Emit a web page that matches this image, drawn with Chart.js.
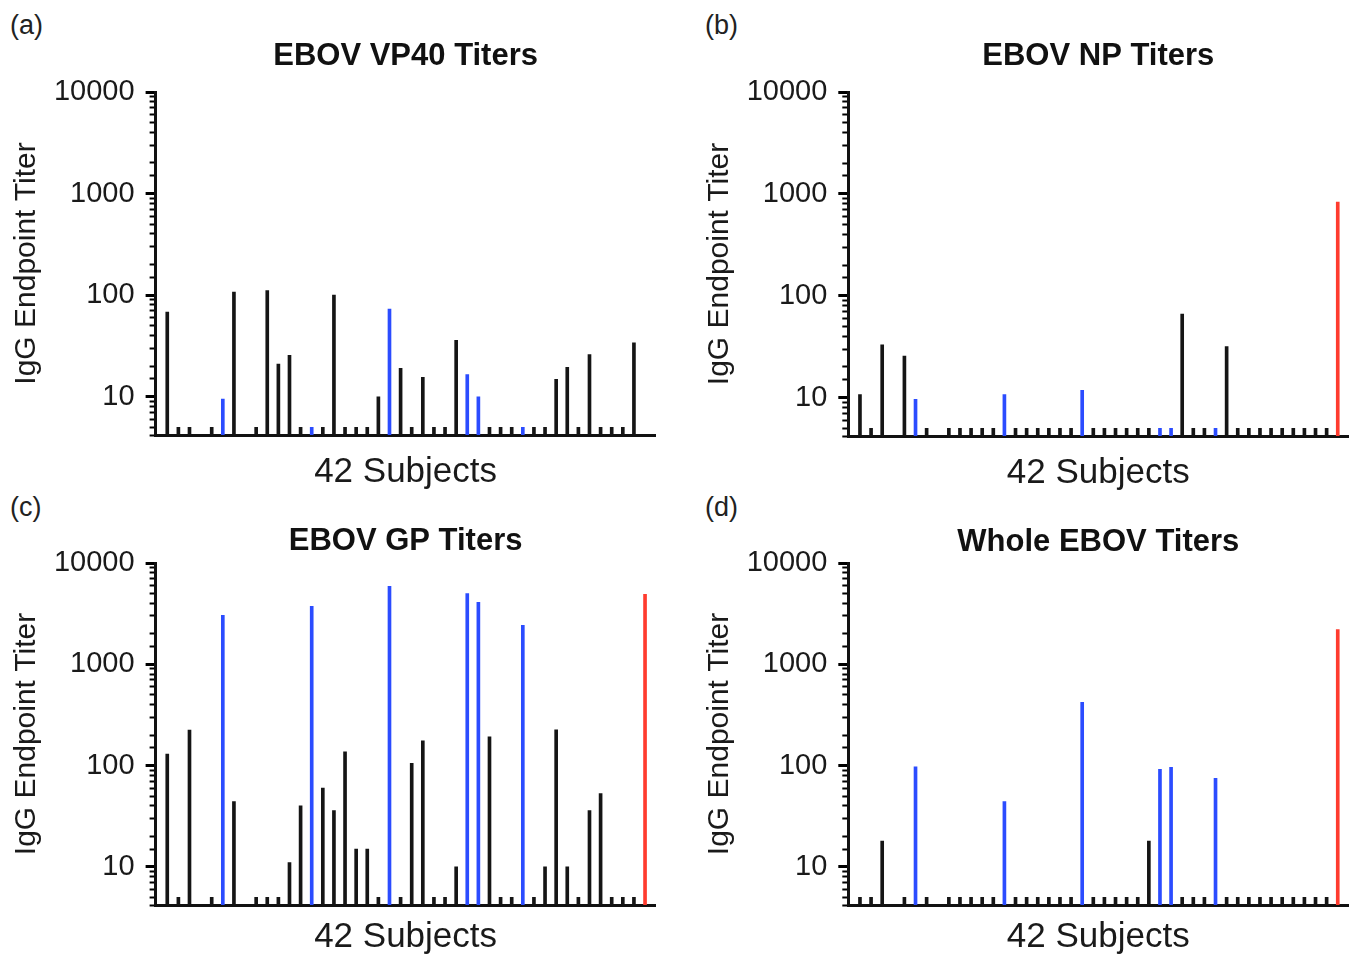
<!DOCTYPE html>
<html>
<head>
<meta charset="utf-8">
<script src="https://cdn.jsdelivr.net/npm/chart.js@4/dist/chart.umd.min.js"></script>
<style>
  body { margin: 0; background: #fff; width: 1354px; height: 958px; position: relative; overflow: hidden;
         font-family: 'Liberation Sans', Arial, sans-serif; }
  canvas { position: absolute; left: 0; top: 0; }
  .tag { position: absolute; font-size: 27px; line-height: 32px; color: #222; }
</style>
</head>
<body>
<div class="tag" style="left:10px;top:9px">(a)</div>
<div class="tag" style="left:705px;top:9px">(b)</div>
<div class="tag" style="left:10px;top:491px">(c)</div>
<div class="tag" style="left:705px;top:491px">(d)</div>
<canvas id="chartA" width="1354" height="958"></canvas>
<canvas id="chartB" width="1354" height="958"></canvas>
<canvas id="chartC" width="1354" height="958"></canvas>
<canvas id="chartD" width="1354" height="958"></canvas>
<script>
var FONT = "'Liberation Sans', Arial, sans-serif";

// subject slots along the x axis (3 and 7 are empty, 43 is the positive control)
var subjects = [0, 1, 2, 3, 4, 5, 6, 7, 8, 9, 10, 11, 12, 13, 14, 15, 16, 17, 18, 19, 20, 21,
                22, 23, 24, 25, 26, 27, 28, 29, 30, 31, 32, 33, 34, 35, 36, 37, 38, 39, 40, 41, 42, 43];
// n = subject, b = highlighted subject, r = control
var groups = ['n','n','n','n','n','b','n','n','n','n','n','n','n','b','n','n','n','n','n','n','b','n',
              'n','n','n','n','n','b','b','n','n','n','b','n','n','n','n','n','n','n','n','n','n','r'];
var groupColor = { n: '#151515', b: '#2b4cff', r: '#ff3b2e' };

var yTicks = [10, 100, 1000, 10000];

var vp40 = [68, 5, 5, null, 5, 9.5, 107, null, 5, 111, 21, 25.6, 5, 5, 5, 100, 5, 5, 5, 10, 73, 19,
            5, 15.5, 5, 5, 36, 16.5, 10, 5, 5, 5, 5, 5, 5, 14.8, 19.5, 5, 26, 5, 5, 5, 34, null];
var np = [10.7, 5, 33, null, 25.5, 9.6, 5, null, 5, 5, 5, 5, 5, 10.7, 5, 5, 5, 5, 5, 5, 11.8, 5,
          5, 5, 5, 5, 5, 5, 5, 66, 5, 5, 5, 31.7, 5, 5, 5, 5, 5, 5, 5, 5, 5, 830];
var gp = [130, 5, 224, null, 5, 3050, 44, null, 5, 5, 5, 11, 40, 3740, 60, 36, 137, 15, 15, 5, 5900, 5,
          105, 175, 5, 5, 10, 5000, 4100, 192, 5, 5, 2430, 5, 10, 225, 10, 5, 36, 53, 5, 5, 5, 4900];
var whole = [5, 5, 18, null, 5, 97, 5, null, 5, 5, 5, 5, 5, 44, 5, 5, 5, 5, 5, 5, 420, 5,
             5, 5, 5, 5, 18, 92, 96, 5, 5, 5, 75, 5, 5, 5, 5, 5, 5, 5, 5, 5, 5, 2200];

Chart.defaults.font.family = FONT;
Chart.defaults.color = '#1a1a1a';

function isDecade(v) {
    return yTicks.indexOf(v) !== -1;
}

function makeChart(id, title, values, p) {
    var points = subjects.map(function (s, i) { return { x: s, y: values[i] }; });
    var colors = subjects.map(function (s, i) { return groupColor[groups[i]]; });
    return new Chart(document.getElementById(id), {
        type: 'bar',
        data: {
            datasets: [{
                data: points,
                backgroundColor: colors,
                borderWidth: 0,
                barThickness: 3
            }]
        },
        options: {
            responsive: false,
            animation: false,
            layout: { padding: { left: p.padLeft, top: 0, right: 1354 - p.right, bottom: p.padBottom } },
            plugins: {
                legend: { display: false },
                tooltip: { enabled: false },
                title: {
                    display: true, text: title, fullSize: false, color: '#111',
                    font: { size: 31, weight: 'bold' },
                    padding: { top: p.titleTop, bottom: p.titleBottom }
                }
            },
            scales: {
                x: {
                    type: 'linear', min: -1.05, max: 43.95, offset: false,
                    grid: { display: false, offset: false },
                    ticks: { display: false },
                    border: { display: true, width: 3, color: '#111' },
                    title: { display: true, text: '42 Subjects', color: '#1a1a1a', font: { size: 35 },
                             padding: { top: 0, bottom: p.xTitlePad } },
                    afterFit: function (s) { s.height = p.xHeight; }
                },
                y: {
                    type: 'logarithmic', position: 'left', weight: 1, min: 4.2, max: 10000,
                    ticks: {
                        autoSkip: false, padding: 15, font: { size: 29 }, color: '#1a1a1a',
                        callback: function (v) { return isDecade(v) ? String(v) : ''; }
                    },
                    grid: { drawOnChartArea: false, tickLength: 6, tickWidth: 2, tickColor: '#000' },
                    border: { width: 3, color: '#111' },
                    title: { display: true, text: 'IgG Endpoint Titer', color: '#1a1a1a', font: { size: 30 },
                             padding: { top: p.yTitlePad, bottom: 0 } },
                    afterFit: function (s) { s.width = p.left - p.padLeft; }
                },
                // longer marks for the decades, laid over the main axis
                yMajor: {
                    type: 'logarithmic', position: 'left', weight: 0, min: 4.2, max: 10000,
                    ticks: { display: false },
                    afterBuildTicks: function (s) {
                        s.ticks = s.ticks.filter(function (t) { return isDecade(t.value); });
                    },
                    grid: { drawOnChartArea: false, tickLength: 10, tickWidth: 3, tickColor: '#000' },
                    border: { display: false },
                    afterFit: function (s) { s.width = 0; }
                }
            }
        }
    });
}

makeChart('chartA', 'EBOV VP40 Titers', vp40,
    { padLeft: 0, left: 155.6, right: 655.6, titleTop: 38, titleBottom: 16.8,
      padBottom: 461, xHeight: 62, xTitlePad: 4, yTitlePad: 9 });
makeChart('chartB', 'EBOV NP Titers', np,
    { padLeft: 690, left: 848.3, right: 1348.3, titleTop: 38, titleBottom: 16.8,
      padBottom: 460, xHeight: 62, xTitlePad: 4, yTitlePad: 12 });
makeChart('chartC', 'EBOV GP Titers', gp,
    { padLeft: 0, left: 155.6, right: 655.6, titleTop: 522.4, titleBottom: 3.4,
      padBottom: 0, xHeight: 53, xTitlePad: 0, yTitlePad: 9 });
makeChart('chartD', 'Whole EBOV Titers', whole,
    { padLeft: 690, left: 848.3, right: 1348.3, titleTop: 523.4, titleBottom: 2.4,
      padBottom: 0, xHeight: 53, xTitlePad: 0, yTitlePad: 12 });
</script>
</body>
</html>
